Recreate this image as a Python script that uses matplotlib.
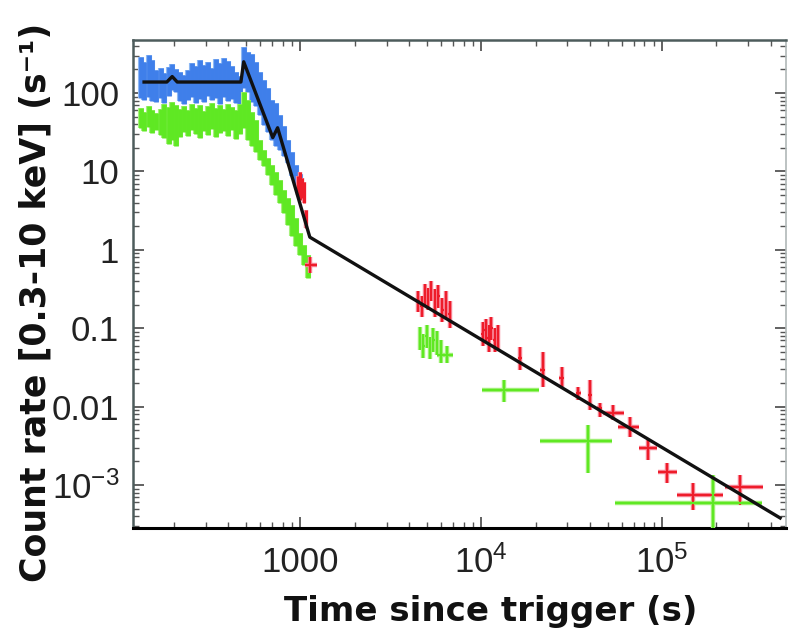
import numpy as np
import matplotlib
matplotlib.use("Agg")
import matplotlib.pyplot as plt
from matplotlib.ticker import FixedLocator, FixedFormatter, LogLocator, NullFormatter

plt.rcParams['font.family'] = ['Liberation Sans', 'DejaVu Sans']
plt.rcParams['mathtext.fontset'] = 'custom'
plt.rcParams['mathtext.rm'] = 'Liberation Sans'
plt.rcParams['mathtext.it'] = 'Liberation Sans:italic'

# early light curve (WT mode) - blue = total band, green = other band
blue_t = [131, 137, 145, 152, 160, 169, 177, 187, 196, 207, 217, 229, 241, 253,
          266, 280, 295, 310, 327, 344, 361, 380, 400, 421, 443, 466, 491, 516,
          543, 571, 601, 632, 666, 700, 736, 776, 816, 859, 903, 950, 1000]
blue_hi = [288, 249, 305, 264, 197, 208, 180, 215, 234, 202, 185, 170, 197, 241,
           221, 264, 228, 249, 208, 272, 241, 280, 256, 221, 185, 165, 386, 333,
           314, 249, 185, 147, 116, 81, 75, 52, 38, 25, 17.7, 12.1, 9.3]
blue_lo = [86.4, 81.4, 88.9, 79.1, 76.8, 86.4, 74.6, 91.6, 109, 103, 79.1, 72.4,
           81.4, 88.9, 74.6, 83.8, 76.8, 91.6, 81.4, 86.4, 72.4, 88.9, 79.1, 83.8,
           74.6, 70.3, 116, 103, 76.8, 68.3, 52.4, 39.1, 31.8, 25.2, 21.1, 18.7,
           15.7, 12.8, 8.7, 6.5, 5.0]

green_t = [131, 137, 145, 152, 160, 169, 177, 187, 196, 207, 217, 229, 241, 253,
           266, 280, 295, 310, 327, 344, 361, 380, 400, 421, 443, 466, 491, 516,
           543, 571, 601, 632, 666, 700, 736, 776, 816, 859, 903, 950, 1000, 1052, 1107]
green_hi = [64.4, 57.2, 68.3, 60.7, 55.6, 62.5, 72.4, 66.3, 76.8, 70.3, 62.5, 68.3,
            60.7, 72.4, 64.4, 70.3, 58.9, 68.3, 74.6, 64.4, 70.3, 62.5, 72.4, 66.3,
            60.7, 72.4, 103, 81.4, 57.2, 45.2, 25.2, 18.7, 14.8, 12.1, 9.8, 7.77,
            5.79, 4.58, 3.73, 2.54, 1.64, 1.15, 0.859]
green_lo = [35.8, 32.8, 36.8, 30.9, 33.7, 29.1, 26.7, 22.4, 25.2, 21.1, 27.5, 31.8,
            28.3, 33.7, 30.0, 26.7, 32.8, 29.1, 34.7, 27.5, 30.9, 32.8, 28.3, 33.7,
            25.9, 30.0, 35.8, 25.2, 21.1, 17.7, 14.0, 11.7, 9.0, 6.71, 5.0, 3.95,
            2.95, 2.07, 1.50, 1.12, 0.859, 0.640, 0.437]

# red points, end of WT
red_wt_t = [975, 1000, 1026, 1052, 1079]
red_wt_hi = [8.7, 9.8, 8.2, 7.3, 3.22]
red_wt_lo = [5.0, 4.3, 4.6, 3.95, 1.90]

# red points, PC mode
red_t = [1136, 4500, 4700, 4900, 5100, 5300, 5550, 5800, 6100, 6400, 6700,
         10200, 10600, 11000, 11400, 11900, 12400,
         16400, 22000, 28000, 34400, 40000, 45400,
         53600, 66500, 83700, 106600, 148300, 270000]
red_r = [0.64, 0.22, 0.19, 0.27, 0.24, 0.30, 0.21, 0.26, 0.17, 0.20, 0.15,
         0.085, 0.095, 0.075, 0.10, 0.07, 0.08,
         0.042, 0.029, 0.0235, 0.015, 0.014, 0.0095,
         0.0083, 0.0055, 0.0030, 0.00146, 0.00074, 0.00094]
red_lo = [0.50, 0.16, 0.14, 0.19, 0.17, 0.22, 0.14, 0.18, 0.12, 0.13, 0.10,
          0.06, 0.065, 0.05, 0.07, 0.05, 0.055,
          0.029, 0.018, 0.018, 0.012, 0.009, 0.0074,
          0.0068, 0.0041, 0.0021, 0.00106, 0.00048, 0.00056]
red_hi = [0.80, 0.30, 0.26, 0.37, 0.33, 0.40, 0.32, 0.36, 0.24, 0.30, 0.22,
          0.12, 0.13, 0.11, 0.14, 0.10, 0.11,
          0.057, 0.050, 0.032, 0.018, 0.022, 0.011,
          0.0106, 0.0073, 0.0038, 0.0019, 0.00106, 0.00134]
red_tlo = [1066, 4420, 4620, 4820, 5020, 5220, 5460, 5710, 6000, 6300, 6600,
           10000, 10400, 10800, 11200, 11700, 12200,
           15900, 21300, 27100, 33300, 38800, 44000,
           47000, 57000, 75000, 95000, 121000, 223000]
red_thi = [1241, 4580, 4780, 4980, 5180, 5380, 5640, 5890, 6200, 6500, 6800,
           10400, 10800, 11200, 11600, 12100, 12600,
           16900, 22700, 28900, 35500, 41200, 46800,
           62000, 75000, 94000, 121000, 217000, 362000]

# green points, PC mode
green_pc_t = [4600, 4800, 5000, 5200, 5450, 5700, 6000, 6490, 13400, 39000, 191000]
green_pc_r = [0.075, 0.06, 0.08, 0.055, 0.07, 0.065, 0.05, 0.046, 0.0163, 0.00364, 0.000589]
green_pc_lo = [0.052, 0.042, 0.056, 0.04, 0.05, 0.046, 0.036, 0.036, 0.0114, 0.00142, 0.0001]
green_pc_hi = [0.105, 0.085, 0.11, 0.078, 0.10, 0.092, 0.07, 0.060, 0.0218, 0.00582, 0.00134]
green_pc_tlo = [4520, 4720, 4920, 5120, 5360, 5600, 5900, 5710, 10100, 21200, 55000]
green_pc_thi = [4680, 4880, 5080, 5280, 5540, 5800, 6100, 7000, 21000, 52900, 357000]

# broken power-law model
model_t = [137, 183, 196, 209, 470, 487, 705, 750, 1130, 4.5e5]
model_r = [138, 138, 162, 138, 138, 250, 27, 36, 1.45, 3.8e-4]

blue_c, blue_halo = "#3f7fea", "#8db8f4"
green_c, green_halo = "#5fe823", "#a6f07e"
red_c, red_halo = "#ee1c2a", "#f78a9a"


def band(ax, t, lo, hi, col, halo, lw, z):
    t = np.array(t); lo = np.array(lo); hi = np.array(hi)
    mid = np.sqrt(lo * hi)
    ax.errorbar(t, mid, yerr=[mid - lo, hi - mid], fmt="none", ecolor=halo,
                elinewidth=lw + 1.0, zorder=z)
    ax.errorbar(t, mid, yerr=[mid - lo, hi - mid], fmt="none", ecolor=col,
                elinewidth=lw, zorder=z + 0.1)


def crosses(ax, t, r, lo, hi, tlo, thi, col, halo, z):
    t = np.array(t); r = np.array(r)
    yerr = [r - np.array(lo), np.array(hi) - r]
    xerr = [t - np.array(tlo), np.array(thi) - t]
    ax.errorbar(t, r, yerr=yerr, xerr=xerr, fmt="none", ecolor=halo,
                elinewidth=3.2, zorder=z)
    ax.errorbar(t, r, yerr=yerr, xerr=xerr, fmt="none", ecolor=col,
                elinewidth=1.6, zorder=z + 0.1)


fig = plt.figure(figsize=(7.9, 6.36), dpi=100)
ax = fig.add_axes([133 / 790, 1 - 528 / 636, (786 - 133) / 790, (528 - 40) / 636])
ax.set_xscale("log")
ax.set_yscale("log")

band(ax, blue_t, blue_lo, blue_hi, blue_c, blue_halo, 3.4, 2)
band(ax, green_t, green_lo, green_hi, green_c, green_halo, 3.4, 3)
band(ax, red_wt_t, red_wt_lo, red_wt_hi, red_c, red_halo, 2.2, 4)
crosses(ax, red_t, red_r, red_lo, red_hi, red_tlo, red_thi, red_c, red_halo, 4)
crosses(ax, green_pc_t, green_pc_r, green_pc_lo, green_pc_hi, green_pc_tlo,
        green_pc_thi, green_c, green_halo, 4)
ax.plot(model_t, model_r, color="#111111", linewidth=2.4, zorder=6)

ax.set_xlim(119, 4.85e5)
ax.set_ylim(2.83e-4, 474)

ax.xaxis.set_major_locator(FixedLocator([1000, 1e4, 1e5]))
ax.xaxis.set_major_formatter(FixedFormatter(["1000", "$10^4$", "$10^5$"]))
ax.yaxis.set_major_locator(FixedLocator([1e-3, 1e-2, 0.1, 1, 10, 100]))
ax.yaxis.set_major_formatter(FixedFormatter(["$10^{-3}$", "0.01", "0.1", "1", "10", "100"]))
ax.xaxis.set_minor_locator(LogLocator(base=10, subs=np.arange(2, 10), numticks=20))
ax.yaxis.set_minor_locator(LogLocator(base=10, subs=np.arange(2, 10), numticks=20))
ax.xaxis.set_minor_formatter(NullFormatter())
ax.yaxis.set_minor_formatter(NullFormatter())

ax.tick_params(which="both", direction="in", top=True, right=True, colors="#555555",
               labelcolor="#222222", labelsize=25)
ax.tick_params(which="major", length=8, width=1.3)
ax.tick_params(which="minor", length=4, width=1.0)
ax.tick_params(axis="x", pad=32)
ax.tick_params(axis="y", pad=10)
for tk in ax.xaxis.get_major_ticks():
    tk.label1.set_verticalalignment("baseline")

for s in ["left", "top"]:
    ax.spines[s].set_color("#4d5c5c")
    ax.spines[s].set_linewidth(1.8)
ax.spines["right"].set_color("#b0b8b8")
ax.spines["right"].set_linewidth(1.2)
ax.spines["bottom"].set_color("#000000")
ax.spines["bottom"].set_linewidth(2.2)

fig.text(491 / 790, 1 - 621 / 636, "Time since trigger (s)", ha="center", va="baseline",
         fontsize=24.5, fontweight="bold", family="DejaVu Sans", color="#111111")
fig.text(36 / 790, 1 - 302 / 636, "Count rate [0.3-10 keV] (s⁻¹)", rotation=90,
         ha="center", va="center", fontsize=25, fontweight="bold",
         family="DejaVu Sans", color="#111111")

fig.savefig("out.png", dpi=100)
